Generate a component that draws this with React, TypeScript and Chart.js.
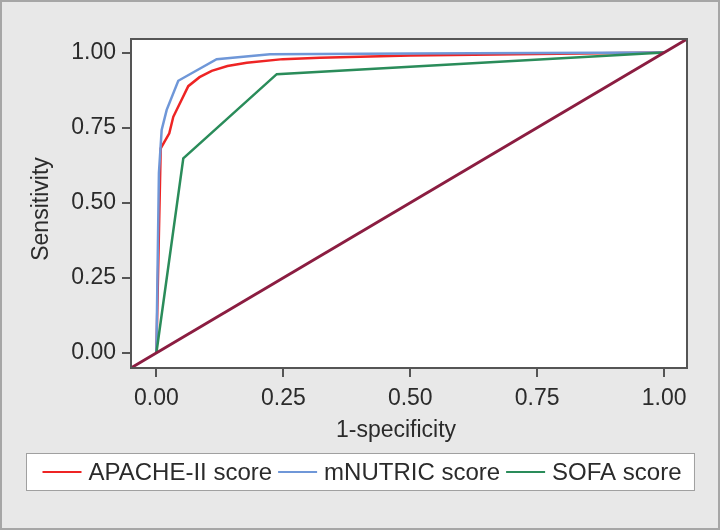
import React, { useEffect, useRef } from "react";
import { Chart, registerables } from "chart.js";

Chart.register(...registerables);

const seriesNames = ["APACHE-II score", "mNUTRIC score", "SOFA score"];
const seriesColors = ["#ee2424", "#6f97d8", "#2a8c5a"];
const referenceColor = "#8b1d41";

const apacheX = [0, 0.0085, 0.0254, 0.0333, 0.0628, 0.085, 0.109, 0.14, 0.178, 0.249, 0.322, 0.5, 0.75, 1];
const apacheY = [0, 0.681, 0.731, 0.786, 0.888, 0.918, 0.939, 0.955, 0.966, 0.978, 0.983, 0.99, 0.995, 1];

const mnutricX = [0, 0.005, 0.0104, 0.0203, 0.0431, 0.1187, 0.2237, 0.5, 1];
const mnutricY = [0, 0.6, 0.742, 0.809, 0.906, 0.978, 0.994, 0.997, 1];

const sofaX = [0, 0.053, 0.237, 1];
const sofaY = [0, 0.648, 0.928, 1];

const axisMin = -0.05;
const axisMax = 1.045;
const referenceX = [axisMin, axisMax];
const referenceY = [axisMin, axisMax];

const xTicks = [0, 0.25, 0.5, 0.75, 1];
const yTicks = [0, 0.25, 0.5, 0.75, 1];
const xTitle = "1-specificity";
const yTitle = "Sensitivity";

const FONT = '"Liberation Sans", Arial, Helvetica, sans-serif';
const TEXT = "#2b2b2b";
const AXIS = "#555555";

const toPoints = (xs: number[], ys: number[]) => xs.map((x, i) => ({ x, y: ys[i] }));

const framePlugin = {
  id: "frameAndLegend",
  beforeDraw(chart: any) {
    const { ctx, width, height, chartArea: a } = chart;
    ctx.save();
    ctx.fillStyle = "#e8e8e8";
    ctx.fillRect(0, 0, width, height);
    ctx.strokeStyle = "#a6a6a6";
    ctx.lineWidth = 2;
    ctx.strokeRect(1, 1, width - 2, height - 2);
    ctx.fillStyle = "#ffffff";
    ctx.fillRect(a.left, a.top, a.right - a.left, a.bottom - a.top);
    ctx.restore();
  },
  afterDraw(chart: any) {
    const { ctx, width, chartArea: a } = chart;
    ctx.save();
    ctx.strokeStyle = AXIS;
    ctx.lineWidth = 2;
    ctx.strokeRect(a.left, a.top, a.right - a.left, a.bottom - a.top);

    // axis titles
    ctx.fillStyle = TEXT;
    ctx.font = `23px ${FONT}`;
    ctx.textAlign = "center";
    ctx.textBaseline = "middle";
    ctx.fillText(xTitle, 396, 431);
    ctx.save();
    ctx.translate(42, 209);
    ctx.rotate(-Math.PI / 2);
    ctx.fillText(yTitle, 0, 0);
    ctx.restore();

    // legend
    ctx.font = `24px ${FONT}`;
    const lineW = 39;
    const gapText = 7;
    const gapItem = 6;
    const padL = 16;
    const padR = 13;
    const widths = seriesNames.map((n) => ctx.measureText(n).width);
    const contentW =
      widths.reduce((s, w) => s + lineW + gapText + w, 0) + gapItem * (seriesNames.length - 1);
    const boxW = contentW + padL + padR;
    const boxL = Math.round(width / 2 - boxW / 2) + 0.5;
    const boxT = 453.5;
    const boxH = 37;
    ctx.fillStyle = "#ffffff";
    ctx.fillRect(boxL, boxT, boxW, boxH);
    ctx.strokeStyle = "#a0a0a0";
    ctx.lineWidth = 1;
    ctx.strokeRect(boxL, boxT, boxW, boxH);
    const cy = boxT + boxH / 2;
    let x = boxL + padL;
    ctx.textBaseline = "middle";
    ctx.textAlign = "left";
    seriesNames.forEach((n, i) => {
      ctx.strokeStyle = seriesColors[i];
      ctx.lineWidth = 2;
      ctx.beginPath();
      ctx.moveTo(x, cy);
      ctx.lineTo(x + lineW, cy);
      ctx.stroke();
      x += lineW + gapText;
      ctx.fillStyle = TEXT;
      ctx.fillText(n, x, cy + 1);
      x += widths[i] + gapItem;
    });
    ctx.restore();
  },
};

export default function App() {
  const ref = useRef<HTMLCanvasElement | null>(null);

  useEffect(() => {
    if (!ref.current) return;
    const lineDs = (label: string, data: any[], color: string, width = 2.5) => ({
      label,
      data,
      borderColor: color,
      backgroundColor: color,
      borderWidth: width,
      pointRadius: 0,
      pointHoverRadius: 0,
      fill: false,
      tension: 0,
      showLine: true,
    });

    const chart = new Chart(ref.current, {
      type: "scatter",
      data: {
        datasets: [
          lineDs("reference", toPoints(referenceX, referenceY), referenceColor, 2.8),
          lineDs(seriesNames[2], toPoints(sofaX, sofaY), seriesColors[2]),
          lineDs(seriesNames[1], toPoints(mnutricX, mnutricY), seriesColors[1]),
          lineDs(seriesNames[0], toPoints(apacheX, apacheY), seriesColors[0]),
        ],
      },
      options: {
        responsive: false,
        animation: false,
        devicePixelRatio: 1,
        layout: { padding: { top: 39, right: 33, left: 0, bottom: 0 } },
        plugins: {
          legend: { display: false },
          tooltip: { enabled: false },
        },
        scales: {
          x: {
            type: "linear",
            min: axisMin,
            max: axisMax,
            afterBuildTicks: (s: any) => {
              s.ticks = xTicks.map((v) => ({ value: v }));
            },
            afterFit: (s: any) => {
              s.height = 162;
            },
            ticks: {
              callback: (v: any) => Number(v).toFixed(2),
              font: { family: FONT, size: 23 },
              color: TEXT,
              padding: 8,
              maxRotation: 0,
              autoSkip: false,
            },
            grid: {
              drawOnChartArea: false,
              drawTicks: true,
              tickLength: 9,
              color: AXIS,
              lineWidth: 2,
            },
            border: { display: false },
            title: { display: false },
          },
          y: {
            type: "linear",
            min: axisMin,
            max: axisMax,
            afterBuildTicks: (s: any) => {
              s.ticks = yTicks.map((v) => ({ value: v }));
            },
            afterFit: (s: any) => {
              s.width = 131;
            },
            ticks: {
              callback: (v: any) => Number(v).toFixed(2),
              font: { family: FONT, size: 23 },
              color: TEXT,
              padding: 6,
              autoSkip: false,
            },
            grid: {
              drawOnChartArea: false,
              drawTicks: true,
              tickLength: 9,
              color: AXIS,
              lineWidth: 2,
            },
            border: { display: false },
            title: { display: false },
          },
        },
      },
      plugins: [framePlugin],
    });
    return () => chart.destroy();
  }, []);

  return (
    <div style={{ position: "absolute", left: 0, top: 0, width: 720, height: 530 }}>
      <canvas ref={ref} width={720} height={530} style={{ display: "block", width: 720, height: 530 }} />
    </div>
  );
}
